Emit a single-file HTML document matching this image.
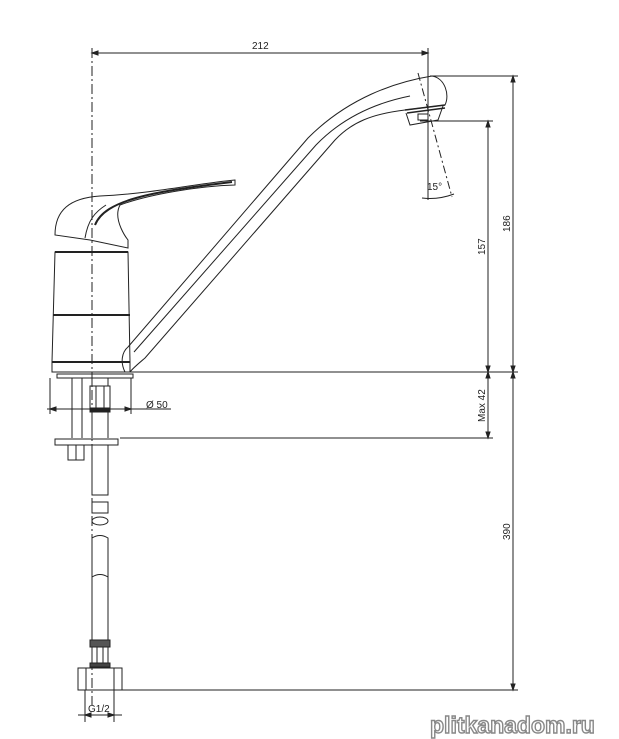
<!DOCTYPE html>
<html><head><meta charset="utf-8"><style>
html,body{margin:0;padding:0;background:#fff;width:619px;height:739px;overflow:hidden}
svg{display:block}
text{font-family:"Liberation Sans",sans-serif;fill:#222}
</style></head><body>
<svg width="619" height="739" viewBox="0 0 619 739" fill="none" stroke="#222" stroke-width="1">
<!-- centerline -->
<line x1="92" y1="48" x2="92" y2="705" stroke-dasharray="10,3,2,3"/>
<!-- top dim 212 -->
<line x1="92" y1="53" x2="428" y2="53"/>
<line x1="428" y1="48" x2="428" y2="140"/>
<path d="M92,53 l6,-2 v4z M428,53 l-6,-2 v4z" fill="#222"/>
<text x="252" y="49" font-size="10" stroke="none">212</text>
<!-- right extension lines -->
<line x1="430" y1="76" x2="518" y2="76"/>
<line x1="420" y1="121" x2="493" y2="121"/>
<line x1="130" y1="372" x2="518" y2="372"/>
<line x1="120" y1="438" x2="493" y2="438"/>
<line x1="122" y1="690" x2="518" y2="690"/>
<line x1="513" y1="76" x2="513" y2="690"/>
<line x1="488" y1="121" x2="488" y2="438"/>
<path d="M513,76 l-2,6 h4z M513,372 l-2,-6 h4z M513,372 l-2,6 h4z M513,690 l-2,-6 h4z M488,121 l-2,6 h4z M488,372 l-2,-6 h4z M488,372 l-2,6 h4z M488,438 l-2,-6 h4z" fill="#222"/>
<text transform="translate(510,232) rotate(-90)" font-size="10" stroke="none">186</text>
<text transform="translate(485,255) rotate(-90)" font-size="10" stroke="none">157</text>
<text transform="translate(485,422) rotate(-90)" font-size="10" stroke="none">Max 42</text>
<text transform="translate(510,540) rotate(-90)" font-size="10" stroke="none">390</text>
<!-- spout -->
<path d="M125,372 C120,362 122,352 128,347 L308,138 C348,98 395,82 432,76 C445,78 450,95 445,105 L405,110 C372,114 352,122 335,140 L145,358 C138,364 133,368 130,372"/>
<path d="M134,352 L316,145 C345,115 380,102 410,96"/>
<path d="M405,110 l40,-5 M407,113 l38,-5" stroke-width="1.5"/>
<path d="M406,113 L410,125 L438,120 L443,106"/>
<rect x="418" y="114" width="10" height="6"/>
<!-- 15 deg -->
<line x1="418" y1="73" x2="452" y2="197" stroke-dasharray="8,3,2,3"/>
<line x1="428" y1="140" x2="428" y2="200"/>
<path d="M422,198 Q438,200 454,194"/>
<text x="427" y="190" font-size="10" stroke="none">15°</text>
<!-- body -->
<path d="M55,252 L52,362 L130,362 L128,252 Z"/>
<line x1="55" y1="252" x2="128" y2="252" stroke-width="2"/>
<line x1="53" y1="315" x2="130" y2="315" stroke-width="2"/>
<line x1="52" y1="362" x2="130" y2="362" stroke-width="2"/>
<rect x="52" y="362" width="78" height="10"/>
<!-- handle -->
<path d="M55,235 C55,210 70,198 100,196 C150,194 200,183 235,180 L235,185 C200,186 150,194 120,205 C112,220 128,240 128,240 L128,248 L90,240 Z"/>
<path d="M95,225 C105,200 150,192 232,182" stroke-width="2"/>
<path d="M85,238 C88,220 95,212 106,205"/>
<!-- deck parts -->
<rect x="57" y="374" width="76" height="4"/>
<line x1="72" y1="378" x2="72" y2="438"/><line x1="82" y1="378" x2="82" y2="438"/>
<rect x="92" y="378" width="16" height="8"/>
<rect x="90" y="386" width="20" height="22"/>
<line x1="96" y1="386" x2="96" y2="408"/><line x1="104" y1="386" x2="104" y2="408"/>
<rect x="90" y="408" width="20" height="4" fill="#222"/>
<line x1="92" y1="412" x2="92" y2="438"/><line x1="108" y1="412" x2="108" y2="438"/>
<!-- dim 50 -->
<line x1="47" y1="409" x2="131" y2="409"/>
<line x1="50" y1="378" x2="50" y2="414"/><line x1="131" y1="378" x2="131" y2="414"/>
<line x1="131" y1="409" x2="171" y2="409"/>
<path d="M50,409 l6,-2 v4z M131,409 l-6,-2 v4z" fill="#222"/>
<text x="146" y="408" font-size="10" stroke="none">Ø 50</text>
<!-- bottom plate -->
<rect x="55" y="439" width="63" height="6"/>
<rect x="68" y="445" width="16" height="15"/><line x1="76" y1="445" x2="76" y2="460"/>
<!-- tube -->
<path d="M92,445 V495 H108 V445"/>
<path d="M92,502 V513 H108 V502 Z"/>
<ellipse cx="100" cy="521" rx="8" ry="4"/>
<path d="M92,640 V538 Q100,533 108,538 V640"/>
<path d="M92,577 Q100,572 108,577"/>
<rect x="90" y="640" width="20" height="7" fill="#555"/>
<rect x="92" y="647" width="16" height="16"/>
<line x1="97" y1="647" x2="97" y2="663"/><line x1="103" y1="647" x2="103" y2="663"/>
<rect x="90" y="663" width="20" height="4" fill="#444"/>
<rect x="78" y="668" width="44" height="22"/>
<line x1="86" y1="668" x2="86" y2="690"/><line x1="114" y1="668" x2="114" y2="690"/>
<!-- G1/2 -->
<line x1="85" y1="690" x2="85" y2="722"/><line x1="114" y1="690" x2="114" y2="722"/>
<line x1="78" y1="715" x2="122" y2="715"/>
<path d="M85,715 l6,-2 v4z M114,715 l-6,-2 v4z" fill="#222"/>
<text x="88" y="712" font-size="10" stroke="none">G1/2</text>
<!-- watermark -->
<text x="430" y="733" font-size="23" font-weight="bold" font-family="Liberation Mono" style="fill:#fff;stroke:#888;stroke-width:1.4">plitkanadom.ru</text>
</svg>
</body></html>
